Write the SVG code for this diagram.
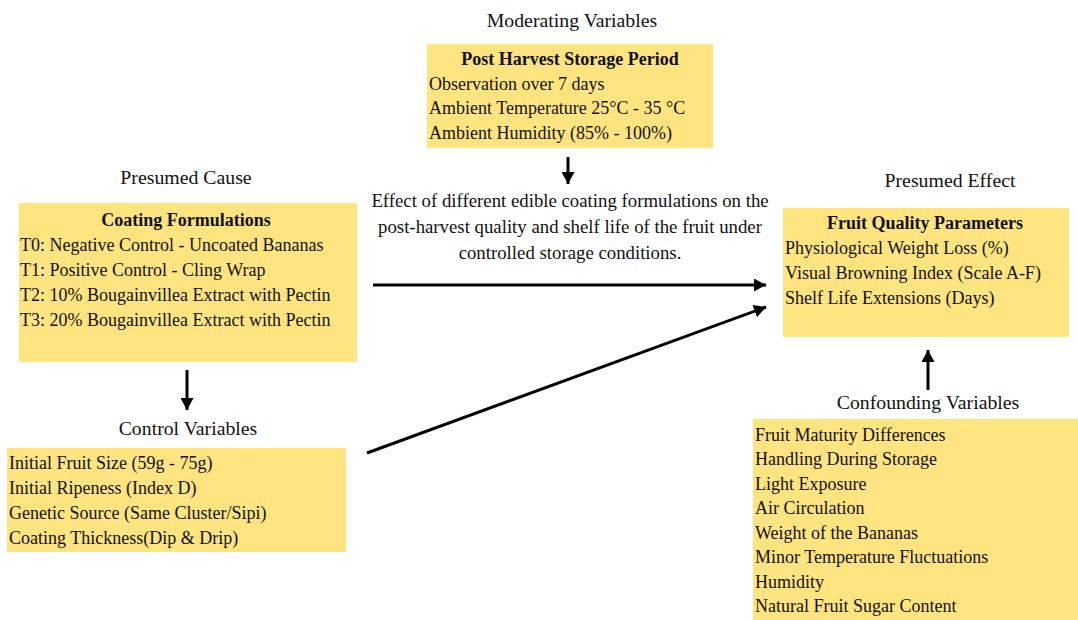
<svg xmlns="http://www.w3.org/2000/svg" width="1078" height="620" viewBox="0 0 1078 620">
<defs>
<style>
.box{fill:#FFE480;}
text{font-family:"Liberation Serif","Times New Roman",serif;font-size:18px;fill:#111;}
.t{font-weight:bold;text-anchor:middle;}
.c{text-anchor:middle;}
.h{text-anchor:middle;font-size:19.8px;}
.e{text-anchor:middle;font-size:18.8px;}
.ln{stroke:#000;stroke-width:3;fill:none;}
</style>
<marker id="ah" markerUnits="userSpaceOnUse" markerWidth="13" markerHeight="13" refX="12" refY="6.5" orient="auto">
<path d="M0,0 L12,6.5 L0,13 z" fill="#000"/>
</marker>
</defs>
<rect width="1078" height="620" fill="#fff"/>

<g id="moderating">
<text class="h" x="572" y="27">Moderating Variables</text>
<rect class="box" x="427" y="44" width="286" height="104"/>
<text class="t" x="570" y="65">Post Harvest Storage Period</text>
<text x="429" y="90">Observation over 7 days</text>
<text x="429" y="114">Ambient Temperature 25°C - 35 °C</text>
<text x="429" y="139">Ambient Humidity (85% - 100%)</text>
</g>

<g id="cause">
<text class="h" x="186" y="184">Presumed Cause</text>
<rect class="box" x="19" y="203" width="338" height="159"/>
<text class="t" x="186" y="226">Coating Formulations</text>
<text x="20" y="251">T0: Negative Control - Uncoated Bananas</text>
<text x="20" y="276">T1: Positive Control - Cling Wrap</text>
<text x="20" y="301">T2: 10% Bougainvillea Extract with Pectin</text>
<text x="20" y="326">T3: 20% Bougainvillea Extract with Pectin</text>
</g>

<g id="effect">
<text class="h" x="950" y="187">Presumed Effect</text>
<rect class="box" x="783" y="208" width="286" height="129"/>
<text class="t" x="925" y="229">Fruit Quality Parameters</text>
<text x="785" y="254">Physiological Weight Loss (%)</text>
<text x="785" y="279">Visual Browning Index (Scale A-F)</text>
<text x="785" y="304">Shelf Life Extensions (Days)</text>
</g>

<g id="control">
<text class="h" x="188" y="435">Control Variables</text>
<rect class="box" x="7" y="448" width="339" height="104"/>
<text x="9" y="469">Initial Fruit Size (59g - 75g)</text>
<text x="9" y="494">Initial Ripeness (Index D)</text>
<text x="9" y="519">Genetic Source (Same Cluster/Sipi)</text>
<text x="9" y="544">Coating Thickness(Dip &amp; Drip)</text>
</g>

<g id="confounding">
<text class="h" x="928" y="409">Confounding Variables</text>
<rect class="box" x="753" y="419" width="325" height="201"/>
<text x="755" y="441">Fruit Maturity Differences</text>
<text x="755" y="465">Handling During Storage</text>
<text x="755" y="490">Light Exposure</text>
<text x="755" y="514">Air Circulation</text>
<text x="755" y="539">Weight of the Bananas</text>
<text x="755" y="563">Minor Temperature Fluctuations</text>
<text x="755" y="588">Humidity</text>
<text x="755" y="612">Natural Fruit Sugar Content</text>
</g>

<g id="effect-label">
<text class="e" x="570" y="207">Effect of different edible coating formulations on the</text>
<text class="e" x="570" y="233">post-harvest quality and shelf life of the fruit under</text>
<text class="e" x="570" y="259">controlled storage conditions.</text>
</g>

<g id="connectors">
<line class="ln" x1="568" y1="157" x2="568" y2="184" marker-end="url(#ah)"/>
<line class="ln" x1="187" y1="370" x2="187" y2="410" marker-end="url(#ah)"/>
<line class="ln" x1="928" y1="390" x2="928" y2="350" marker-end="url(#ah)"/>
<line class="ln" x1="373" y1="285" x2="766" y2="285" marker-end="url(#ah)"/>
<line class="ln" x1="367" y1="453" x2="766" y2="307" marker-end="url(#ah)"/>
</g>
</svg>
